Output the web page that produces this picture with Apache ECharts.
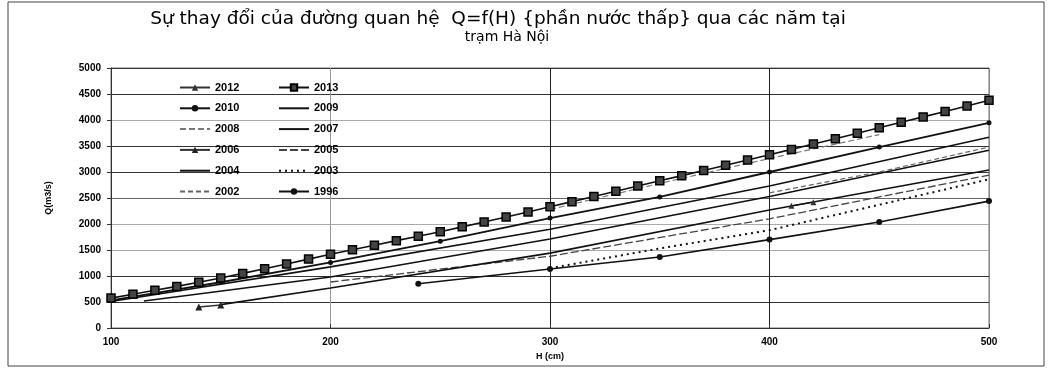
<!DOCTYPE html>
<html>
<head>
<meta charset="utf-8">
<script src="https://cdn.jsdelivr.net/npm/echarts@6/dist/echarts.min.js"></script>
<style>
html,body{margin:0;padding:0;background:#fff;}
#chart{width:1051px;height:371px;}
</style>
</head>
<body>
<div id="chart"></div>
<script>
// ---- data ----
var xTicks = [100, 200, 300, 400, 500];
var yTicks = [0, 500, 1000, 1500, 2000, 2500, 3000, 3500, 4000, 4500, 5000];

var h2013 = [100,110,120,130,140,150,160,170,180,190,200,210,220,230,240,250,260,270,280,290,300,310,320,330,340,350,360,370,380,390,400,410,420,430,440,450,460,470,480,490,500];
var q2013 = [575,650,725,800,880,960,1050,1140,1230,1325,1420,1505,1590,1680,1765,1850,1945,2040,2135,2230,2330,2430,2530,2630,2730,2830,2930,3030,3130,3230,3330,3435,3540,3640,3745,3850,3955,4060,4165,4270,4380];

var h2010 = [100, 150, 200, 250, 300, 350, 400, 450, 500];
var q2010 = [530, 880, 1260, 1670, 2115, 2520, 3000, 3480, 3945];

var h2009 = [100, 200, 300, 400, 500];
var q2009 = [510, 1175, 1900, 2730, 3670];

var h2007 = [115, 200, 300, 400, 500];
var q2007 = [520, 980, 1710, 2530, 3420];

var h2004 = [150, 200, 300, 400, 500];
var q2004 = [450, 770, 1440, 2270, 3040];

var h2005 = [200, 300, 400, 500];
var q2005 = [885, 1380, 2100, 2940];

var h2003 = [300, 350, 400, 450, 500];
var q2003 = [1150, 1530, 1880, 2370, 2860];

var h1996 = [240, 300, 350, 400, 450, 500];
var q1996 = [850, 1135, 1365, 1700, 2040, 2440];

var h2012 = [410, 420];
var q2012 = [2350, 2420];

var h2006 = [140, 150];
var q2006 = [404, 442];

var h2008 = [300, 350, 400, 450];
var q2008 = [2280, 2780, 3260, 3720];

var h2002 = [400, 450, 500];
var q2002 = [2600, 3000, 3480];

var legendCol1 = ['2012', '2010', '2008', '2006', '2004', '2002'];
var legendCol2 = ['2013', '2009', '2007', '2005', '2003', '1996'];

function pairs(h, q) { return h.map(function (v, i) { return [v, q[i]]; }); }

var FONT = '"Liberation Sans", Arial, sans-serif';
var TFONT = '"DejaVu Sans", Verdana, sans-serif';

function line(name, h, q, opt) {
  var s = {
    name: name,
    type: 'line',
    data: pairs(h, q),
    symbol: 'none',
    symbolSize: 5,
    lineStyle: { color: '#111', width: 1.5, type: 'solid' },
    itemStyle: { color: '#111' },
    z: 3
  };
  for (var k in opt) s[k] = opt[k];
  return s;
}

var series = [
  line('2012', h2012, q2012, { symbol: 'triangle', symbolSize: 6, lineStyle: { color: '#333', width: 1.2 }, itemStyle: { color: '#333' } }),
  line('2013', h2013, q2013, { symbol: 'rect', symbolSize: 8, lineStyle: { color: '#111', width: 1.6 }, itemStyle: { color: '#444', borderColor: '#000', borderWidth: 1.5 }, z: 5 }),
  line('2010', h2010, q2010, { symbol: 'circle', symbolSize: 5, lineStyle: { color: '#111', width: 1.8 }, itemStyle: { color: '#111' } }),
  line('2009', h2009, q2009, { lineStyle: { color: '#111', width: 1.6 } }),
  line('2008', h2008, q2008, { lineStyle: { color: '#777', width: 1.2, type: [6, 3] } }),
  line('2007', h2007, q2007, { lineStyle: { color: '#111', width: 1.6 } }),
  line('2006', h2006, q2006, { symbol: 'triangle', symbolSize: 7, lineStyle: { color: '#333', width: 1.5 }, itemStyle: { color: '#222' } }),
  line('2005', h2005, q2005, { lineStyle: { color: '#444', width: 1.3, type: [8, 3] } }),
  line('2004', h2004, q2004, { lineStyle: { color: '#111', width: 1.6 } }),
  line('2003', h2003, q2003, { lineStyle: { color: '#111', width: 2, type: [2, 4] } }),
  line('2002', h2002, q2002, { lineStyle: { color: '#666', width: 1.2, type: [5, 3] } }),
  line('1996', h1996, q1996, { symbol: 'circle', symbolSize: 6, lineStyle: { color: '#111', width: 1.6 }, itemStyle: { color: '#111' } })
];

var markerSeries = { '2012': 1, '2013': 1, '2010': 1, '2006': 1, '1996': 1 };
function legendItems(list) {
  return list.map(function (n) {
    if (markerSeries[n]) return { name: n };
    return { name: n, itemStyle: { opacity: 0 } };
  });
}

var legendBase = {
  orient: 'vertical',
  top: 77,
  itemWidth: 30,
  itemHeight: 8,
  itemGap: 9.8,
  textStyle: { fontFamily: FONT, fontSize: 11, fontWeight: 'bold', color: '#000' }
};
var legend1 = Object.assign({}, legendBase, { left: 174, data: legendItems(legendCol1) });
var legend2 = Object.assign({}, legendBase, { left: 273, data: legendItems(legendCol2) });

var chart = echarts.init(document.getElementById('chart'), null, { renderer: 'canvas' });
chart.setOption({
  animation: false,
  backgroundColor: '#fff',
  title: [{
    text: 'Sự thay đổi của đường quan hệ  Q=f(H) {phần nước thấp} qua các năm tại',
    left: 493,
    textAlign: 'center',
    top: 5,
    textStyle: { fontFamily: TFONT, fontSize: 18.5, fontWeight: 'normal', color: '#000' }
  }, {
    text: 'trạm Hà Nội',
    left: 502,
    textAlign: 'center',
    top: 25,
    textStyle: { fontFamily: TFONT, fontSize: 14, fontWeight: 'normal', color: '#000' }
  }],
  legend: [legend1, legend2],
  grid: {
    left: 111, right: 62, top: 68, bottom: 43,
    show: true, borderColor: '#777', borderWidth: 1
  },
  xAxis: {
    type: 'value',
    min: xTicks[0], max: xTicks[xTicks.length - 1], interval: 100,
    name: 'H (cm)',
    nameLocation: 'middle',
    nameGap: 20,
    nameTextStyle: { fontFamily: FONT, fontSize: 9, fontWeight: 'bold', color: '#000' },
    axisLine: { lineStyle: { color: '#333', width: 1 } },
    axisTick: { show: true, length: 4, inside: true, lineStyle: { color: '#333' } },
    axisLabel: { fontFamily: FONT, fontSize: 10, fontWeight: 'bold', color: '#000', margin: 9 },
    splitLine: { show: true, lineStyle: { color: ['#333', '#999', '#222', '#222', '#888'], width: 1 } }
  },
  yAxis: {
    type: 'value',
    min: yTicks[0], max: yTicks[yTicks.length - 1], interval: 500,
    name: 'Q(m3/s)',
    nameLocation: 'middle',
    nameGap: 58,
    nameRotate: 90,
    nameTextStyle: { fontFamily: FONT, fontSize: 9, fontWeight: 'bold', color: '#000' },
    axisLine: { show: true, lineStyle: { color: '#333', width: 1 } },
    axisTick: { show: true, length: 4, lineStyle: { color: '#333' } },
    axisLabel: { fontFamily: FONT, fontSize: 10, fontWeight: 'bold', color: '#000', margin: 10,
      formatter: function (v) { return String(v); } },
    splitLine: { show: true, lineStyle: {
      color: ['#333', '#333', '#333', '#aaa', '#aaa', '#666', '#333', '#333', '#aaa', '#333', '#333'], width: 1 } }
  },
  graphic: [{
    type: 'rect',
    shape: { x: 8, y: 2, width: 1036, height: 364 },
    style: { fill: 'none', stroke: '#444', lineWidth: 1 },
    silent: true
  }],
  series: series
});
</script>
</body>
</html>
